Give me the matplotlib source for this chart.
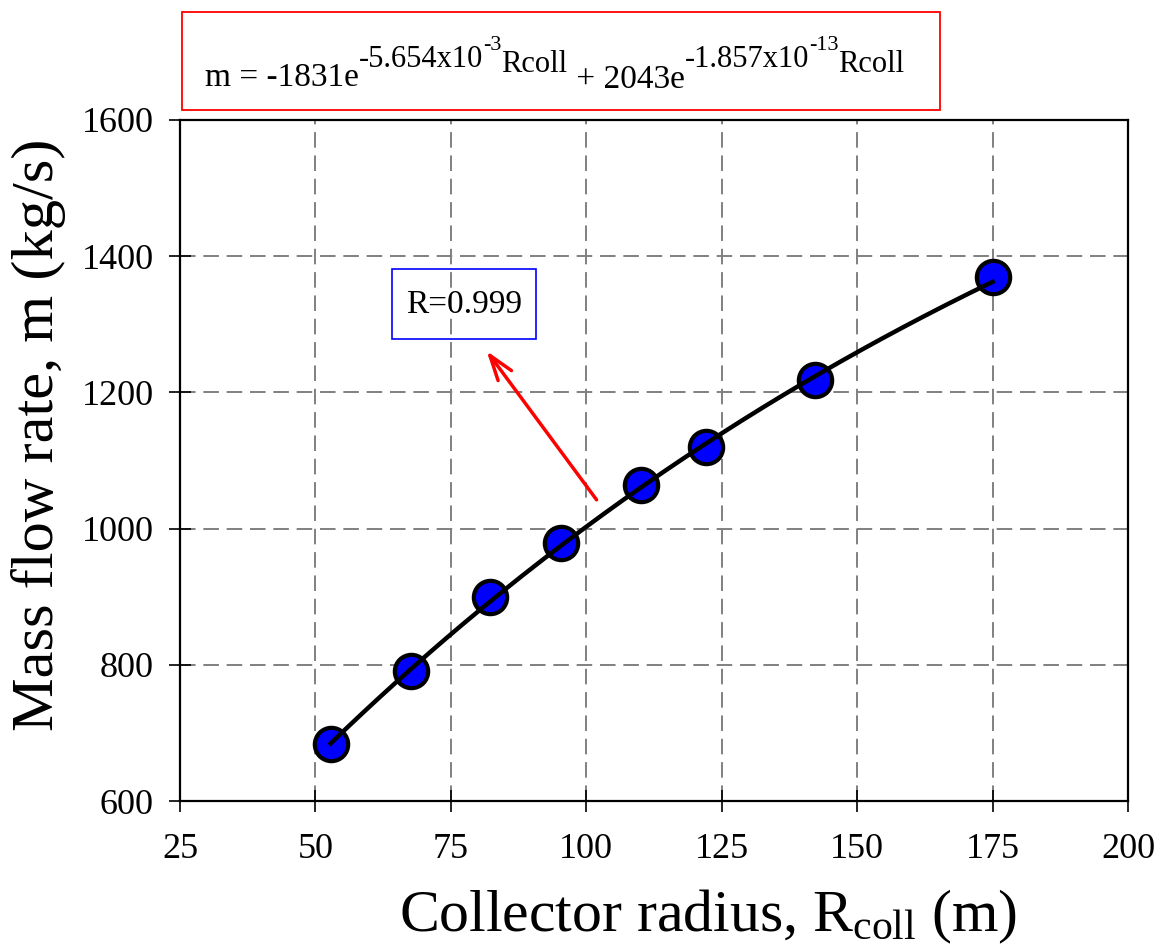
import numpy as np
import matplotlib.pyplot as plt
from matplotlib.patches import Rectangle

plt.rcParams['font.family'] = 'Liberation Serif'
plt.rcParams['mathtext.fontset'] = 'custom'
plt.rcParams['mathtext.rm'] = 'Liberation Serif'
plt.rcParams['mathtext.it'] = 'Liberation Serif'

# collector radius (m) and mass flow rate (kg/s)
r_coll = [52.8, 67.6, 82.3, 95.3, 110.1, 122.1, 142.2, 175.0]
m_flow = [684, 791, 900, 979, 1064, 1120, 1218, 1369]

# fitted double exponential  m = a1*exp(b1*R) + a2*exp(b2*R)
a1, b1 = -1831.0, -5.654e-3
a2, b2 = 2043.0, -1.857e-13
r_corr = 0.999

xticks = [25, 50, 75, 100, 125, 150, 175, 200]
yticks = [600, 800, 1000, 1200, 1400, 1600]

fig = plt.figure(figsize=(11.63, 9.52), dpi=100)
ax = fig.add_axes([0.1548, 0.1586, 0.8151, 0.7154])

ax.grid(True, color='#808080', linestyle=(0, (8, 4)), linewidth=1.4)
ax.set_axisbelow(True)

ax.plot(r_coll, m_flow, 'o', markersize=24, markerfacecolor='#0000ff',
        markeredgecolor='black', markeredgewidth=3, zorder=3)

rr = np.linspace(min(r_coll), max(r_coll), 200)
ax.plot(rr, a1*np.exp(b1*rr) + a2*np.exp(b2*rr), color='black', lw=3.2, zorder=4)

ax.set_xlim(25, 200)
ax.set_ylim(600, 1600)
ax.set_xticks(xticks)
ax.set_yticks(yticks)
ax.tick_params(direction='inout', length=16, width=1.2, labelsize=26)
ax.tick_params(axis='x', pad=15)
ax.tick_params(axis='y', pad=11)
for s in ax.spines.values():
    s.set_linewidth(1.6)

ax.set_xlabel(r'Collector radius, R$_{\mathrm{coll}}$ (m)', fontsize=43)
ax.set_ylabel('Mass flow rate, m (kg/s)', fontsize=43.5)
ax.xaxis.set_label_coords(0.557, -0.127)
ax.yaxis.set_label_coords(-0.12, 0.537)

# correlation box with arrow
ax.add_patch(Rectangle((64.1, 1278), 26.6, 103, fill=False,
                       edgecolor='#0000ff', lw=1.2, zorder=5))
ax.text(77.4, 1329, 'R=%.3f' % r_corr, fontsize=24, ha='center', va='center', zorder=5)
ax.annotate('', xy=(81.3, 1264), xytext=(102.2, 1039),
            arrowprops=dict(arrowstyle='->,head_length=1.8,head_width=0.6',
                            color='red', lw=2.5))

# equation box above the axes
fig.patches.append(Rectangle((182/1163, 1-110/952), 758/1163, 98/952,
                             transform=fig.transFigure, fill=False,
                             edgecolor='red', lw=1.3))

# equation written piece by piece so the exponents keep plain hyphens
# (text, baseline shift in px, font size)
pieces = [('m = -1831e', 0, 24),
          ('-5.654x10', 19, 22),
          ('-3', 36, 16),
          ('Rcoll', 14, 22),
          (' + 2043e', -2, 24),
          ('-1.857x10', 19, 22),
          ('-13', 36, 16),
          ('Rcoll', 14, 22)]
base_y = 1 - 86/952
prev = None
for txt, dy, size in pieces:
    if prev is None:
        prev = fig.text(205/1163, base_y + dy/952, txt, fontsize=size, va='baseline')
    else:
        prev = ax.annotate(txt, xy=(1, base_y), xycoords=(prev, 'figure fraction'),
                           xytext=(0, dy*0.72), textcoords='offset points',
                           fontsize=size, va='baseline', ha='left',
                           annotation_clip=False)

fig.savefig('out.png', dpi=100)
